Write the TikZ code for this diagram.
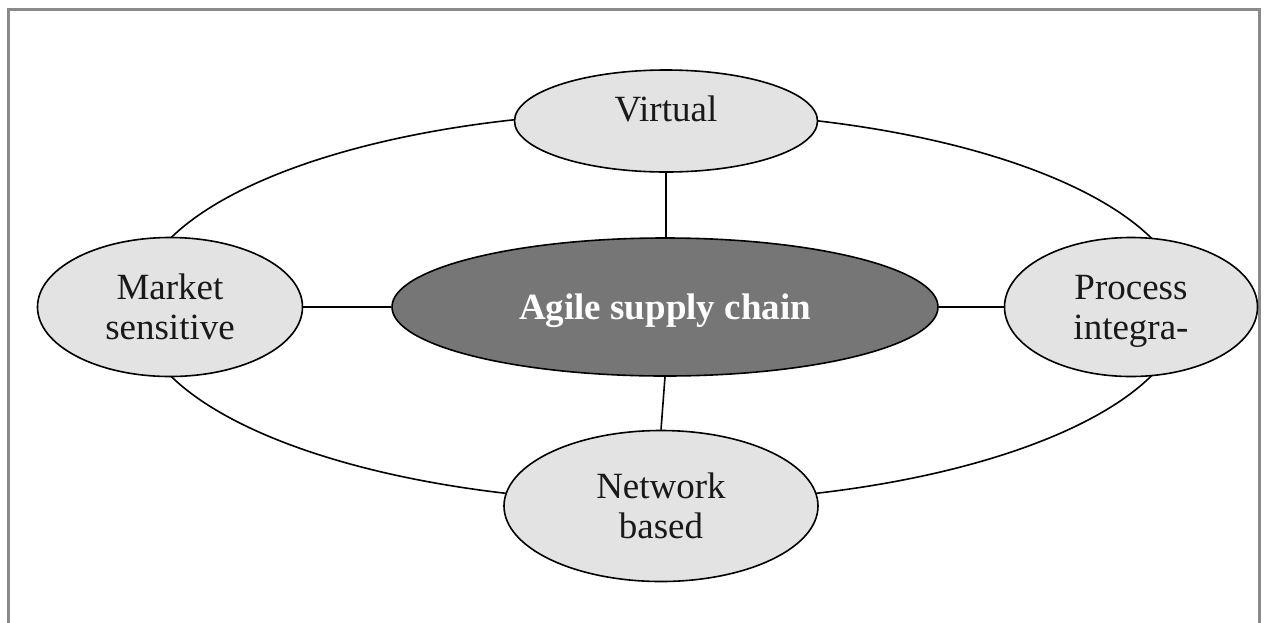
\documentclass[tikz,border=0pt]{standalone}
\usepackage{fontspec}
\setmainfont{Liberation Serif}
\usetikzlibrary{shapes.geometric}
\definecolor{lightfill}{HTML}{E3E3E3}
\definecolor{corefill}{HTML}{767676}
\definecolor{framegray}{HTML}{8A8A8A}
\tikzset{
  trait/.style={ellipse, draw=black, line width=1.6pt, fill=lightfill, inner sep=0pt,
    align=center, font=\fontsize{37}{40}\selectfont, text=black!90, text depth=0pt},
  core/.style={ellipse, draw=black, line width=1.6pt, fill=corefill, inner sep=0pt,
    align=center, font=\fontsize{37}{40}\selectfont\bfseries, text=white, text depth=0pt},
  link/.style={draw=black, line width=1.6pt}
}
\begin{document}
\begin{tikzpicture}[x=1pt,y=-1pt]
  \useasboundingbox (0,0) rectangle (1269,622);
  % outer frame, open past the lower edge
  \draw[framegray, line width=3pt] (8,640) -- (8,9.5) -- (1259.5,9.5) -- (1259.5,640);
  % ring joining the four traits
  \draw[link] (661,307) ellipse [x radius=524pt, y radius=195pt];
  % nodes
  \node[core, minimum width=546pt, minimum height=138pt] (agile) at (665,307) {Agile supply chain};
  \node[trait, minimum width=303pt, minimum height=102pt, text depth=25pt] (virtual) at (666,121) {Virtual};
  \node[trait, minimum width=265pt, minimum height=139pt] (market) at (170,307) {Market\\sensitive};
  \node[trait, minimum width=253pt, minimum height=139pt] (process) at (1131,307) {Process\\integra-};
  \node[trait, minimum width=314pt, minimum height=151pt] (network) at (661,506) {Network\\based};
  % spokes
  \draw[link] (virtual.south) -- (virtual.south |- agile.north);
  \draw[link] (agile.south) -- (network.north);
  \draw[link] (market.east) -- (agile.west);
  \draw[link] (agile.east) -- (process.west);
\end{tikzpicture}
\end{document}
